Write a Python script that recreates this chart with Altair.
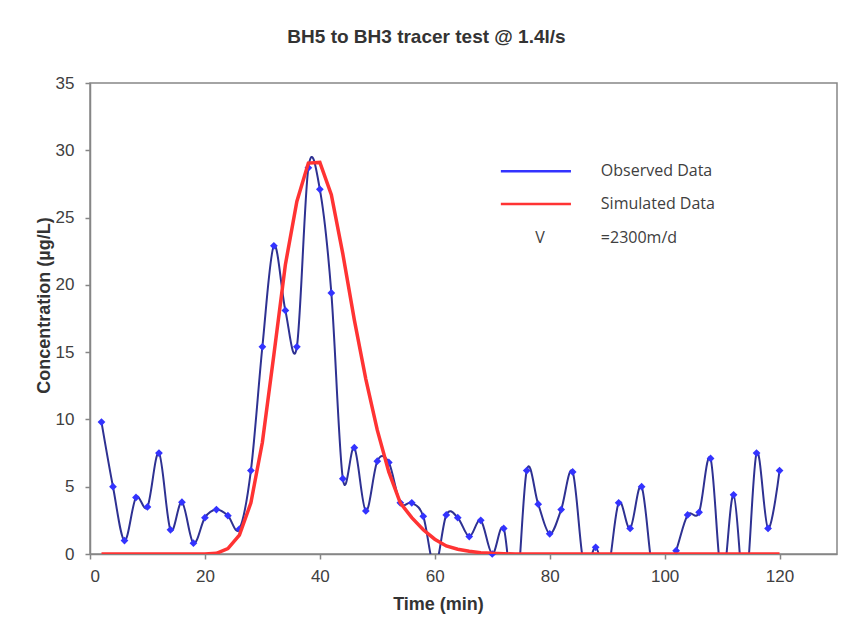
import altair as alt
import pandas as pd

# ---- data ----
obs_time = [2, 4, 6, 8, 10, 12, 14, 16, 18, 20, 22, 24, 26, 28, 30, 32, 34, 36, 38, 40,
            42, 44, 46, 48, 50, 52, 54, 56, 58, 60, 62, 64, 66, 68, 70, 72, 74, 76, 78, 80,
            82, 84, 86, 88, 90, 92, 94, 96, 98, 100, 102, 104, 106, 108, 110, 112, 114, 116, 118, 120]
obs_conc = [9.8, 5.0, 1.0, 4.2, 3.5, 7.5, 1.8, 3.85, 0.8, 2.7, 3.3, 2.85, 1.85, 6.2, 15.4, 22.9, 18.1, 15.4, 28.7, 27.1,
            19.4, 5.6, 7.9, 3.2, 6.9, 6.8, 3.8, 3.8, 2.8, -1.0, 2.9, 2.7, 1.3, 2.5, 0.0, 1.9, -4.0, 6.2, 3.7, 1.5,
            3.3, 6.1, -1.0, 0.5, -1.5, 3.8, 1.9, 5.0, -1.5, -2.0, 0.25, 2.9, 3.1, 7.1, -2.0, 4.4, -3.0, 7.5, 1.9, 6.2]

sim_time = [2, 4, 6, 8, 10, 12, 14, 16, 18, 20, 22, 24, 26, 28, 30, 32, 34, 36, 38, 40,
            42, 44, 46, 48, 50, 52, 54, 56, 58, 60, 62, 64, 66, 68, 70, 72, 74, 76, 78, 80,
            82, 84, 86, 88, 90, 92, 94, 96, 98, 100, 102, 104, 106, 108, 110, 112, 114, 116, 118, 120]
sim_conc = [0, 0, 0, 0, 0, 0, 0, 0, 0, 0, 0.05, 0.4, 1.4, 3.8, 8.3, 14.8, 21.5, 26.2, 29.05, 29.1,
            26.7, 22.3, 17.4, 13.0, 9.2, 6.1, 3.8, 2.7, 1.8, 1.1, 0.6, 0.35, 0.2, 0.1, 0.05, 0.02, 0, 0, 0, 0,
            0, 0, 0, 0, 0, 0, 0, 0, 0, 0, 0, 0, 0, 0, 0, 0, 0, 0, 0, 0]

x_ticks = [0, 20, 40, 60, 80, 100, 120]
y_ticks = [0, 5, 10, 15, 20, 25, 30, 35]

legend_labels = ["Observed Data", "Simulated Data", "=2300m/d"]
legend_colors = ["#3333FF", "#FF3333"]

# ---- tables ----
obs = pd.DataFrame({"t": obs_time, "c": obs_conc})
obs_pts = obs[obs["c"] >= 0]
sim = pd.DataFrame({"t": sim_time, "c": sim_conc})

leg_lines = pd.DataFrame({
    "t": [71.5, 83.7, 71.5, 83.7],
    "c": [28.45, 28.45, 26.0, 26.0],
    "k": ["Observed Data", "Observed Data", "Simulated Data", "Simulated Data"],
})
leg_text = pd.DataFrame({
    "t": [88.9, 88.9, 88.9],
    "c": [28.45, 26.0, 23.5],
    "label": legend_labels,
})
leg_v = pd.DataFrame({"t": [78.3], "c": [23.5], "label": ["V"]})

x_scale = alt.Scale(domain=[0, 130], nice=False, zero=False)
y_scale = alt.Scale(domain=[0, 35], nice=False)

x_enc = alt.X("t:Q", scale=x_scale,
              axis=alt.Axis(values=x_ticks, title="Time (min)", grid=False, labelPadding=9,
                            titleX=348, titleY=41, titleBaseline="top", titleAnchor="start",
                            titleAlign="center"))
y_enc = alt.Y("c:Q", scale=y_scale,
              axis=alt.Axis(values=y_ticks, title="Concentration (µg/L)", grid=False, labelPadding=11,
                            titleX=-37, titleY=222, titleAngle=270, titleBaseline="bottom",
                            titleAlign="center", titleAnchor="start"))

blue_line = alt.Chart(obs).mark_line(
    interpolate="cardinal", tension=0, color="#2E3192", strokeWidth=2, clip=True
).encode(x=x_enc, y=y_enc)

blue_pts = alt.Chart(obs_pts).mark_point(
    shape="diamond", filled=True, color="#3333FF", size=60, opacity=1
).encode(x="t:Q", y="c:Q")

red_line = alt.Chart(sim).mark_line(
    color="#FF3333", strokeWidth=3.5, clip=True
).encode(x="t:Q", y="c:Q")

leg_l = alt.Chart(leg_lines).mark_line(strokeWidth=2.5).encode(
    x="t:Q", y="c:Q",
    color=alt.Color("k:N", scale=alt.Scale(domain=["Observed Data", "Simulated Data"],
                                           range=legend_colors), legend=None),
    detail="k:N",
)
leg_t = alt.Chart(leg_text).mark_text(
    align="left", baseline="middle", font="Open Sans", fontSize=16, color="#404040"
).encode(x="t:Q", y="c:Q", text="label:N")
leg_vt = alt.Chart(leg_v).mark_text(
    align="center", baseline="middle", font="Open Sans", fontSize=16, color="#404040"
).encode(x="t:Q", y="c:Q", text="label:N")

chart = alt.layer(blue_line, blue_pts, red_line, leg_l, leg_t, leg_vt).properties(
    width=747, height=471,
    autosize=alt.AutoSizeParams(type="none"),
    padding={"left": 82, "top": 75, "right": 7, "bottom": 60},
    title=alt.TitleParams("BH5 to BH3 tracer test @ 1.4l/s", font="Liberation Sans",
                          fontSize=19, fontWeight="bold", color="#333333",
                          anchor="middle", dx=-37, offset=27),
).configure_view(
    stroke="#868686", strokeWidth=1.5
).configure_axis(
    labelFont="Liberation Sans", labelFontSize=17, labelColor="#404040",
    titleFont="Liberation Sans", titleFontSize=18, titleFontWeight="bold", titleColor="#333333",
    domainColor="#868686", domainWidth=1.5, tickColor="#868686", tickWidth=1.5, tickSize=5,
)

chart.save("out.html", embed_options={"renderer": "svg", "actions": False})
